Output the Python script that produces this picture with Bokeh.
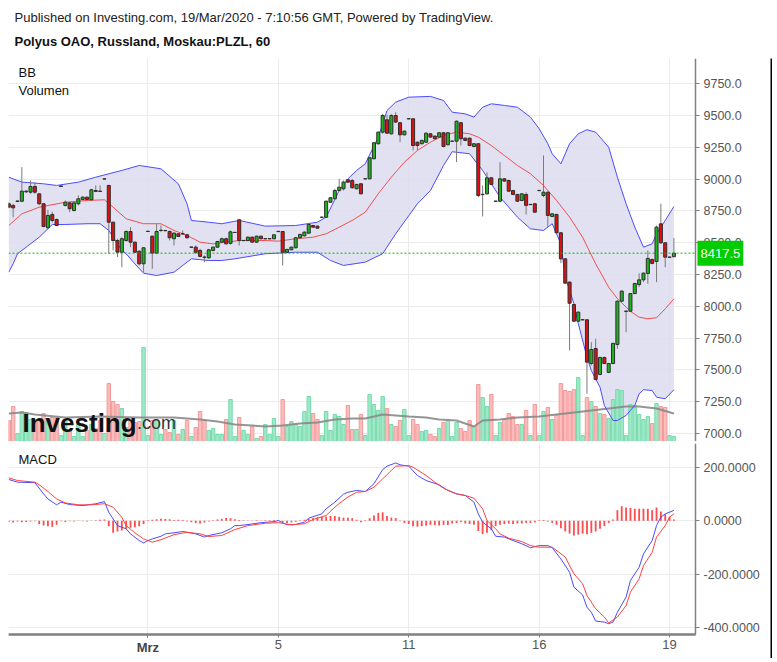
from bokeh.plotting import figure
from bokeh.models import Range1d, FixedTicker, NumeralTickFormatter, Grid, Label, LinearAxis
from bokeh.layouts import row, column
from bokeh.embed import file_html
from bokeh.resources import INLINE
from bokeh.core.properties import value

FONT = "Liberation Sans"

header_line1 = "Published on Investing.com, 19/Mar/2020 - 7:10:56 GMT, Powered by TradingView."
header_line2 = "Polyus OAO, Russland, Moskau:PLZL, 60"

tick_positions = [32, 62, 92, 122, 152]
tick_labels = ["Mrz", "5", "11", "16", "19"]
price_ticks = [7000, 7250, 7500, 7750, 8000, 8250, 8500, 8750, 9000, 9250, 9500, 9750]
macd_ticks = [-400, -200, 0, 200]
last_price = 8417.5

opens = [8806, 8793, 8824, 8826, 8900, 8897, 8942, 8884, 8806, 8617,
         8722, 8682, 8942, 8793, 8813, 8753, 8806, 8840, 8858, 8837,
         8910, 8905, 9000, 8950, 8661, 8517, 8425, 8517, 8588, 8504,
         8433, 8334, 8588, 8551, 8418, 8596, 8596, 8588, 8531, 8570,
         8569, 8562, 8464, 8465, 8439, 8387, 8381, 8439, 8465, 8504,
         8531, 8495, 8580, 8680, 8516, 8517, 8543, 8504, 8551, 8530,
         8530, 8531, 8587, 8588, 8425, 8444, 8460, 8539, 8554, 8575,
         8635, 8630, 8699, 8700, 8818, 8845, 8910, 8924, 8995, 8989,
         8924, 8963, 9001, 9002, 9160, 9278, 9369, 9466, 9356, 9500,
         9443, 9348, 9473, 9474, 9290, 9278, 9290, 9356, 9338, 9330,
         9364, 9270, 9297, 9298, 9443, 9322, 9322, 9256, 9278, 8878,
         8884, 9010, 8825, 8826, 9002, 8989, 8910, 8879, 8832, 8879,
         8799, 8806, 8909, 8871, 8897, 8706, 8722, 8578, 8373, 8190,
         8014, 7883, 7893, 7894, 7550, 7668, 7464, 7597, 7480, 7550,
         7700, 8040, 7960, 7961, 8100, 8171, 8208, 8258, 8368, 8352,
         8648, 8499, 8385, 8390]
highs = [8820, 8806, 8830, 9094, 8915, 8989, 8976, 8890, 8810, 8759,
         8743, 8690, 8950, 8832, 8818, 8818, 8871, 8865, 8862, 8924,
         8950, 8950, 9004, 8955, 8665, 8531, 8543, 8596, 8622, 8510,
         8440, 8465, 8592, 8556, 8649, 8636, 8600, 8596, 8583, 8575,
         8596, 8570, 8467, 8478, 8452, 8400, 8452, 8470, 8515, 8540,
         8540, 8595, 8582, 8685, 8519, 8550, 8550, 8556, 8556, 8533,
         8533, 8567, 8590, 8592, 8452, 8470, 8545, 8570, 8590, 8650,
         8640, 8635, 8702, 8832, 8858, 8924, 9002, 8989, 9000, 9002,
         8963, 8968, 9004, 9175, 9290, 9375, 9513, 9506, 9510, 9526,
         9448, 9382, 9476, 9478, 9295, 9310, 9366, 9362, 9342, 9369,
         9369, 9369, 9300, 9461, 9450, 9325, 9325, 9282, 9282, 8950,
         9054, 9015, 8828, 9133, 9008, 8995, 8915, 8884, 8890, 8897,
         8802, 8811, 8912, 9186, 8900, 8732, 8727, 8582, 8378, 8195,
         8020, 7960, 7896, 7898, 7718, 7745, 7605, 7605, 7555, 7715,
         8046, 8125, 7967, 8105, 8185, 8260, 8268, 8439, 8375, 8635,
         8806, 8504, 8388, 8537]
lows = [8770, 8700, 8822, 8818, 8890, 8884, 8884, 8795, 8622, 8609,
        8659, 8630, 8940, 8785, 8740, 8745, 8793, 8835, 8835, 8832,
        8897, 8898, 8998, 8413, 8439, 8386, 8307, 8508, 8465, 8418,
        8321, 8268, 8586, 8295, 8410, 8583, 8590, 8517, 8478, 8545,
        8560, 8531, 8462, 8412, 8386, 8347, 8373, 8433, 8460, 8500,
        8485, 8485, 8578, 8478, 8514, 8510, 8498, 8498, 8525, 8528,
        8528, 8525, 8586, 8321, 8420, 8440, 8455, 8533, 8550, 8570,
        8617, 8610, 8698, 8695, 8813, 8840, 8905, 8910, 8970, 8924,
        8918, 8880, 8999, 8998, 9155, 9270, 9356, 9356, 9350, 9440,
        9290, 9343, 9472, 9225, 9225, 9272, 9285, 9325, 9312, 9325,
        9250, 9265, 9296, 9133, 9264, 9298, 9258, 9250, 8858, 8706,
        8879, 8953, 8824, 8818, 8979, 8900, 8873, 8820, 8826, 8722,
        8798, 8735, 8908, 8858, 8622, 8700, 8572, 8339, 8176, 7653,
        7876, 7876, 7892, 7312, 7535, 7417, 7458, 7545, 7475, 7545,
        7666, 8035, 7796, 7955, 8095, 8150, 8190, 8177, 8330, 8190,
        8491, 8307, 8384, 8386]
closes = [8779, 8774, 8828, 8905, 8905, 8942, 8897, 8806, 8627, 8714,
          8675, 8635, 8946, 8818, 8767, 8813, 8845, 8858, 8840, 8916,
          8903, 8903, 9002, 8661, 8517, 8425, 8531, 8588, 8504, 8425,
          8334, 8460, 8590, 8418, 8588, 8598, 8594, 8539, 8575, 8549,
          8571, 8539, 8466, 8425, 8392, 8385, 8444, 8465, 8509, 8531,
          8491, 8585, 8581, 8517, 8518, 8543, 8504, 8551, 8531, 8532,
          8532, 8562, 8589, 8425, 8447, 8465, 8539, 8565, 8583, 8643,
          8622, 8614, 8701, 8826, 8853, 8910, 8936, 8976, 8976, 8932,
          8958, 8884, 9003, 9168, 9285, 9369, 9500, 9361, 9500, 9448,
          9348, 9377, 9475, 9264, 9264, 9304, 9361, 9330, 9317, 9364,
          9256, 9364, 9299, 9455, 9317, 9304, 9264, 9278, 8871, 8880,
          9010, 8958, 8827, 9002, 8984, 8905, 8879, 8826, 8884, 8793,
          8801, 8740, 8911, 8897, 8714, 8727, 8578, 8373, 8182, 8024,
          7883, 7954, 7895, 7561, 7660, 7425, 7597, 7550, 7550, 7708,
          8040, 8119, 7962, 8100, 8179, 8208, 8260, 8376, 8337, 8622,
          8499, 8386, 8387, 8417.5]
volume = [21, 35, 8, 30, 29, 22, 22, 22, 28, 22,
          24, 24, 6, 21, 11, 5, 17, 5, 11, 17,
          13, 21, 8, 58, 40, 37, 33, 14, 21, 19,
          20, 94, 6, 21, 21, 7, 12, 9, 21, 7,
          12, 21, 5, 14, 30, 21, 11, 13, 7, 7,
          22, 42, 5, 24, 11, 7, 15, 3, 5, 17,
          7, 23, 5, 42, 15, 20, 17, 15, 30, 45,
          28, 22, 6, 30, 11, 27, 25, 17, 36, 12,
          12, 27, 6, 47, 37, 31, 45, 33, 17, 15,
          21, 32, 6, 22, 17, 10, 11, 7, 5, 13,
          19, 21, 5, 19, 13, 10, 21, 15, 57, 44,
          35, 47, 6, 19, 22, 28, 25, 17, 17, 31,
          6, 37, 6, 30, 34, 22, 27, 58, 51, 50,
          52, 64, 6, 44, 40, 35, 28, 27, 23, 42,
          52, 51, 6, 37, 36, 27, 22, 25, 18, 38,
          35, 34, 6, 5]
vol_ma_idx = [0, 3, 6, 13, 21, 30, 38, 44, 48, 52, 56, 59, 63, 67, 71, 75, 79, 82, 86, 92,
              96, 99, 103, 107, 109, 113, 117, 122, 126, 130, 134, 138, 142, 145, 149, 153]
vol_ma = [28, 29, 27, 24, 25, 24, 24, 22, 20, 17, 16, 15, 16, 18, 19, 22, 23, 23, 27, 25,
          24, 22, 21, 15, 21, 22, 24, 25, 27, 29, 31, 33, 35, 35, 33, 28]

bb_upper_idx = [0, 3, 8, 11, 16, 20, 26, 30, 35, 39, 41, 42, 46, 49, 53, 59, 66, 71, 73, 76,
                78, 80, 82, 85, 87, 89, 92, 97, 100, 102, 105, 107, 109, 111, 114, 117, 120, 122, 124, 125,
                127, 129, 131, 133, 135, 138, 140, 142, 144, 146, 148, 149, 151, 153]
bb_upper = [9015, 8976, 8963, 8950, 8976, 9015, 9068, 9107, 9081, 8963, 8806, 8675, 8661, 8649, 8675, 8630, 8635, 8661, 8701, 8910,
            9002, 9068, 9120, 9330, 9539, 9605, 9644, 9650, 9618, 9526, 9513, 9487, 9565, 9592, 9579, 9565, 9487, 9396, 9278, 9199,
            9120, 9278, 9356, 9388, 9369, 9251, 9015, 8806, 8622, 8465, 8491, 8570, 8675, 8785]
bb_mid_idx = [0, 3, 7, 13, 18, 22, 24, 27, 31, 35, 38, 41, 44, 47, 50, 53, 59, 62, 66, 70,
              73, 76, 79, 82, 85, 88, 91, 94, 97, 100, 103, 106, 108, 111, 114, 117, 120, 123, 126, 129,
              132, 135, 138, 140, 143, 145, 147, 149, 151, 153]
bb_mid = [8635, 8727, 8779, 8818, 8832, 8837, 8779, 8688, 8649, 8649, 8596, 8557, 8504, 8491, 8504, 8517, 8517, 8512, 8531, 8543,
          8570, 8622, 8675, 8740, 8885, 9015, 9133, 9225, 9290, 9343, 9369, 9356, 9330, 9264, 9186, 9107, 9042, 8950, 8832, 8701,
          8543, 8334, 8150, 8060, 7961, 7914, 7902, 7910, 7980, 8059]
bb_lower_idx = [0, 1, 2, 4, 7, 10, 13, 18, 21, 23, 26, 27, 29, 31, 34, 38, 42, 46, 49, 52,
                59, 66, 71, 74, 77, 82, 86, 89, 94, 97, 100, 102, 106, 109, 113, 117, 120, 123, 125, 127,
                128, 130, 131, 133, 134, 136, 137, 139, 140, 142, 143, 144, 145, 146, 148, 149, 151, 153]
bb_lower = [8268, 8334, 8413, 8465, 8543, 8643, 8643, 8649, 8649, 8596, 8439, 8413, 8334, 8260, 8242, 8268, 8373, 8360, 8360, 8373,
            8413, 8425, 8425, 8360, 8321, 8347, 8413, 8570, 8806, 8910, 9107, 9215, 9199, 9068, 8858, 8701, 8609, 8596, 8649, 8491,
            8229, 8020, 7865, 7600, 7495, 7364, 7220, 7102, 7102, 7142, 7181, 7220, 7312, 7344, 7338, 7285, 7273, 7344]

macd_idx = [0, 2, 6, 8, 9, 11, 12, 14, 17, 20, 22, 23, 25, 27, 28, 30, 31, 32, 33, 35,
            36, 38, 40, 43, 45, 46, 49, 51, 52, 53, 55, 58, 61, 62, 64, 66, 68, 69, 72, 73,
            75, 77, 78, 80, 82, 84, 86, 87, 89, 90, 92, 94, 96, 99, 101, 103, 105, 107, 108, 109,
            111, 112, 114, 116, 118, 120, 122, 124, 125, 127, 129, 130, 132, 133, 134, 135, 137, 138, 139, 140,
            142, 143, 145, 146, 148, 149, 150, 151, 153]
macd_line = [155, 145, 143, 101, 82, 60, 70, 61, 57, 64, 72, 32, -18, -30, -49, -74, -83, -74, -68, -58,
             -49, -45, -40, -49, -61, -55, -45, -30, -18, -18, -14, -7, -3, 1, -15, -14, -5, 10, 26, 45,
             70, 100, 107, 114, 110, 139, 192, 205, 217, 210, 205, 170, 151, 135, 114, 101, 95, 70, 26, -5,
             -30, -58, -61, -74, -86, -101, -93, -93, -101, -143, -193, -249, -278, -324, -343, -376, -380, -386, -380, -343,
             -286, -224, -174, -124, -74, -18, 14, 26, 39]
signal_idx = [0, 2, 6, 7, 9, 11, 13, 16, 19, 22, 24, 26, 27, 29, 31, 33, 35, 38, 41, 44,
              46, 49, 52, 55, 59, 62, 65, 68, 70, 73, 75, 76, 78, 80, 82, 84, 86, 88, 89, 92,
              93, 96, 98, 100, 103, 105, 107, 109, 110, 112, 113, 115, 118, 120, 122, 125, 128, 130, 132, 133,
              135, 137, 138, 140, 142, 143, 145, 146, 148, 149, 151, 152, 153]
signal_line = [161, 151, 145, 135, 110, 82, 67, 60, 60, 64, 51, 13, -18, -45, -68, -80, -71, -52, -43, -49,
               -59, -55, -33, -18, -9, -7, -15, -11, 5, 20, 51, 65, 89, 107, 110, 126, 157, 189, 205, 207,
               201, 170, 145, 122, 101, 95, 85, 45, 1, -30, -49, -65, -78, -93, -99, -99, -136, -199, -236, -280,
               -330, -361, -383, -361, -318, -268, -218, -168, -118, -61, -18, 14, 26]
macd_hist = [-4, -6, -3, -5, -4, -3, -2, -12, -18, -20,
             -22, -15, -2, -4, -2, -3, -1, -2, -3, 1,
             2, 4, 5, -20, -45, -40, -36, -30, -26, -24,
             -20, -12, 2, 4, 6, 8, 7, 6, 3, 4,
             3, -3, -5, -8, -10, -6, -3, 2, 5, 8,
             11, 10, 6, 3, 2, 1, 1, 2, 1, 2,
             2, 3, 2, -5, -8, -6, -4, 2, 4, 7,
             10, 13, 15, 16, 18, 18, 15, 12, 12, 10,
             4, -5, 2, 10, 20, 30, 32, 18, 12, 10,
             -2, -8, -12, -20, -22, -20, -18, -15, -16, -18,
             -15, -16, -10, -8, -5, -10, -12, -15, -38, -50,
             -45, -35, -20, -15, -12, -10, -12, -10, -10, -8,
             -8, -6, 2, 3, -3, -8, -15, -28, -40, -48,
             -55, -52, -48, -50, -45, -40, -30, -20, -8, 5,
             40, 55, 50, 48, 45, 45, 45, 45, 40, 50,
             35, 25, 15, 5]

# ---------------------------------------------------------------- derived styling
idx = list(range(len(opens)))
is_up = [c >= o for o, c in zip(opens, closes)]
body_top = [max(o, c) for o, c in zip(opens, closes)]
body_bot = [min(o, c) for o, c in zip(opens, closes)]
candle_fill = ["#1db41d" if u else "#dd1111" for u in is_up]
vol_fill = ["#97e6c3" if u else "#fbb5b5" for u in is_up]
vol_line = ["#74dbab" if u else "#f59a9a" for u in is_up]

GRID = "#ececec"
AXIS = "#808080"
LBL = "#555555"
W = 762
# bar-index extent of the drawing area; the right part holds the value scale
X_START, X_AXIS, X_END = -0.07, 157.97, 175.22
x_range = Range1d(X_START, X_END)
HAS_CROSS = "cross_bounds" in Grid.properties()


def style_right_axis(ax, ticks, fmt):
    ax.fixed_location = X_AXIS
    ax.ticker = FixedTicker(ticks=ticks)
    ax.formatter = NumeralTickFormatter(format=fmt)
    ax.axis_line_color = AXIS
    ax.axis_line_width = 1.5
    ax.major_tick_line_color = AXIS
    ax.major_tick_out = 4
    ax.major_tick_in = 0
    ax.minor_tick_line_color = None
    ax.major_label_text_font = FONT
    ax.major_label_text_font_size = "12.5px"
    ax.major_label_text_color = LBL
    ax.major_label_standoff = 4


def add_grids(p, yticks, ybounds=None):
    p.grid.visible = False
    vg = Grid(dimension=0, ticker=FixedTicker(ticks=tick_positions), grid_line_color=GRID)
    hg = Grid(dimension=1, ticker=FixedTicker(ticks=yticks), grid_line_color=GRID)
    if HAS_CROSS:
        hg.cross_bounds = (X_START, X_AXIS)
        if ybounds is not None:
            vg.cross_bounds = ybounds
    p.add_layout(vg, "center")
    p.add_layout(hg, "center")


def solid_fig(w, h):
    f = figure(width=w, height=h, toolbar_location=None, output_backend="svg",
               x_axis_location=None, y_axis_location=None, min_border=0,
               background_fill_color="black", border_fill_color="black")
    f.outline_line_color = None
    f.grid.visible = False
    return f


# ---------------------------------------------------------------- header
hf = figure(width=764, height=50, x_range=Range1d(0, 764), y_range=Range1d(50, 0),
            toolbar_location=None, output_backend="svg", x_axis_location=None,
            y_axis_location=None, min_border=0)
hf.outline_line_color = None
hf.grid.visible = False
hf.text(x=[6], y=[9], text=[header_line1], text_font=value(FONT), text_font_size="13px",
        text_color="#222222", text_baseline="middle")
hf.text(x=[6], y=[33], text=[header_line2], text_font=value(FONT), text_font_size="13px",
        text_font_style="bold", text_color="#111111", text_baseline="middle")

# ---------------------------------------------------------------- price panel
pf = figure(width=W, height=383, x_range=x_range, y_range=Range1d(6937, 9948),
            x_axis_location=None, y_axis_location="right", toolbar_location=None,
            output_backend="svg", min_border=0)
pf.outline_line_color = None
add_grids(pf, price_ticks)
style_right_axis(pf.yaxis[0], price_ticks, "0.0")
pf.extra_y_ranges = {"vol": Range1d(0, 383)}

pf.patch(bb_upper_idx + bb_lower_idx[::-1], bb_upper + bb_lower[::-1],
         fill_color="#dcdcee", fill_alpha=0.85, line_color=None)
pf.vbar(x=idx, top=volume, bottom=0, width=0.78, fill_color=vol_fill, line_color=vol_line,
        fill_alpha=0.9, y_range_name="vol")
pf.line(vol_ma_idx, vol_ma, line_color="#8a8a8a", line_width=2, line_alpha=0.9, y_range_name="vol")
pf.line(bb_upper_idx, bb_upper, line_color="#4b4bff", line_width=1)
pf.line(bb_lower_idx, bb_lower, line_color="#4b4bff", line_width=1)
pf.line(bb_mid_idx, bb_mid, line_color="#f05050", line_width=1)
pf.segment(x0=idx, y0=lows, x1=idx, y1=highs, line_color="#7a7a7a", line_width=1)
pf.vbar(x=idx, top=body_top, bottom=body_bot, width=0.7, fill_color=candle_fill,
        line_color="#2e2e2e", line_width=1)

# last price: dashed line across the drawing area and tag on the scale
pf.segment(x0=[X_START], y0=[last_price], x1=[X_AXIS], y1=[last_price],
           line_color="#00c000", line_dash="2 2", line_width=1)
pf.add_layout(Label(x=X_AXIS + 0.45, y=last_price, text=f"{last_price:.1f}", text_color="white",
                    text_font=FONT, text_font_size="13px", text_baseline="middle",
                    text_align="left", background_fill_color="#00cc00", padding=(3, 8)))
pf.add_layout(Label(x=2.23, y=9838, text="BB", text_font=FONT, text_font_size="13px",
                    text_baseline="middle", text_color="#111111"))
pf.add_layout(Label(x=2.23, y=9697, text="Volumen", text_font=FONT, text_font_size="13px",
                    text_baseline="middle", text_color="#111111"))
pf.add_layout(Label(x=3.15, y=7086, text="Investing", text_font=FONT, text_font_size="26px",
                    text_font_style="bold", text_color="#111111", text_baseline="alphabetic"))
pf.add_layout(Label(x=29.5, y=7086, text=".com", text_font=FONT, text_font_size="18px",
                    text_color="#333333", text_baseline="alphabetic"))

# ---------------------------------------------------------------- MACD panel
# drawing area covers the date scale too; the date axis sits at AXIS_Y
AXIS_Y, M_LO, M_HI = -426.4, -509, 290
mf = figure(width=W, height=213, x_range=x_range, y_range=Range1d(M_LO, M_HI),
            x_axis_location="below", y_axis_location="right", toolbar_location=None,
            output_backend="svg", min_border=0)
mf.outline_line_color = None
add_grids(mf, macd_ticks, ybounds=(AXIS_Y, M_HI))
style_right_axis(mf.yaxis[0], macd_ticks, "0.0000")
mf.yaxis[0].bounds = (AXIS_Y, M_HI)


def style_x_axis(xa):
    xa.fixed_location = AXIS_Y
    xa.ticker = FixedTicker(ticks=tick_positions)
    xa.bounds = (X_START, X_AXIS)
    xa.axis_line_color = AXIS
    xa.axis_line_width = 2
    xa.major_tick_line_color = AXIS
    xa.major_tick_out = 3
    xa.major_tick_in = 0
    xa.minor_tick_line_color = None
    xa.major_label_text_font = FONT
    xa.major_label_text_font_size = "13px"
    xa.major_label_text_color = LBL
    xa.major_label_standoff = 3


xa = mf.xaxis[0]
style_x_axis(xa)
xa.major_label_overrides = {pos: ("" if i == 0 else lab)
                            for i, (pos, lab) in enumerate(zip(tick_positions, tick_labels))}
# month label (bold) drawn by a second axis at the same place
xm = LinearAxis()
style_x_axis(xm)
xm.ticker = FixedTicker(ticks=[tick_positions[0]])
xm.major_label_overrides = {tick_positions[0]: tick_labels[0]}
xm.major_label_text_font_style = "bold"
xm.major_label_text_color = "#444444"
mf.add_layout(xm, "below")

mf.vbar(x=idx, top=macd_hist, bottom=0, width=0.42, fill_color="#ff4d4d", line_color=None)
mf.line(macd_idx, macd_line, line_color="#4b4bff", line_width=1)
mf.line(signal_idx, signal_line, line_color="#ff4040", line_width=1)
mf.add_layout(Label(x=2.23, y=230, text="MACD", text_font=FONT, text_font_size="13px",
                    text_baseline="middle", text_color="#111111"))

# ---------------------------------------------------------------- frame lines + layout
body = row(column(pf, solid_fig(W, 2), mf, solid_fig(W, 2)), solid_fig(2, 600))
layout = column(hf, body)
layout.margin = (8, 0, 0, 8)

open("out.html", "w").write(file_html(layout, INLINE))
